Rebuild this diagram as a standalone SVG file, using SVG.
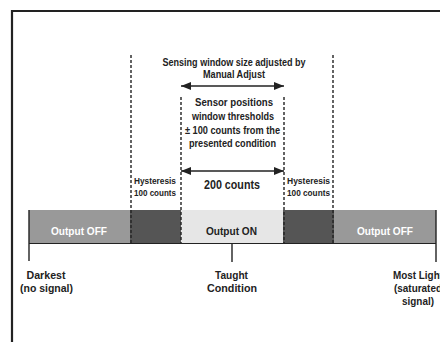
<svg xmlns="http://www.w3.org/2000/svg" width="440" height="342" viewBox="0 0 440 342">
<defs>
<style>
text{font-family:"Liberation Sans",Arial,sans-serif;font-weight:bold;fill:#222;text-anchor:middle}
.ann{font-size:10.5px}
.hys{font-size:9px}
.big{font-size:13px}
.out{font-size:11.5px}
.lbl{font-size:11.5px}
.w{fill:#fff}
.dash{stroke:#222;stroke-width:1.4;stroke-dasharray:3 2;fill:none}
.tick{stroke:#222;stroke-width:1.4;fill:none}
.arr{stroke:#222;stroke-width:1.4;fill:none;marker-start:url(#ah);marker-end:url(#ah)}
</style>
<marker id="ah" viewBox="0 0 10 8" refX="10" refY="4" markerWidth="11" markerHeight="8" markerUnits="userSpaceOnUse" orient="auto-start-reverse">
<path d="M0,0 L10,4 L0,8 z" fill="#222"/>
</marker>
</defs>
<rect width="440" height="342" fill="#fff"/>
<path d="M12,342 V11 H440" fill="none" stroke="#222" stroke-width="2.2"/>

<g id="bar">
<rect x="29" y="210" width="101" height="34" fill="#999"/>
<rect x="130" y="210" width="51" height="34" fill="#555"/>
<rect x="181" y="210" width="102" height="34" fill="#e6e6e6"/>
<rect x="283" y="210" width="51" height="34" fill="#555"/>
<rect x="334" y="210" width="102" height="34" fill="#999"/>
<line x1="29" y1="243.5" x2="436" y2="243.5" stroke="#222" stroke-width="1"/>
<text class="out w" x="79" y="235" textLength="56" lengthAdjust="spacingAndGlyphs">Output OFF</text>
<text class="out" x="231.5" y="235" textLength="51" lengthAdjust="spacingAndGlyphs">Output ON</text>
<text class="out w" x="385" y="235" textLength="56" lengthAdjust="spacingAndGlyphs">Output OFF</text>
</g>

<g id="connectors">
<line class="dash" x1="131" y1="55" x2="131" y2="244"/>
<line class="dash" x1="333" y1="55" x2="333" y2="244"/>
<line class="dash" x1="181" y1="97" x2="181" y2="244"/>
<line class="dash" x1="284" y1="97" x2="284" y2="244"/>
<line class="arr" x1="181" y1="86" x2="284" y2="86"/>
<line class="arr" x1="181" y1="171" x2="284" y2="171"/>
<line class="tick" x1="29" y1="210" x2="29" y2="261"/>
<line class="tick" x1="232" y1="244" x2="232" y2="262"/>
<line class="tick" x1="436" y1="210" x2="436" y2="262"/>
</g>

<g id="window-label">
<text class="ann" x="234" y="66" textLength="143" lengthAdjust="spacingAndGlyphs">Sensing window size adjusted by</text>
<text class="ann" x="234" y="78" textLength="62" lengthAdjust="spacingAndGlyphs">Manual Adjust</text>
</g>
<g id="threshold-label">
<text class="ann" x="234" y="106" textLength="78" lengthAdjust="spacingAndGlyphs">Sensor positions</text>
<text class="ann" x="233" y="120" textLength="82" lengthAdjust="spacingAndGlyphs">window thresholds</text>
<text class="ann" x="232.5" y="134" textLength="95" lengthAdjust="spacingAndGlyphs">± 100 counts from the</text>
<text class="ann" x="232.5" y="147" textLength="87" lengthAdjust="spacingAndGlyphs">presented condition</text>
</g>
<g id="counts-label">
<text class="big" x="232" y="189" textLength="56" lengthAdjust="spacingAndGlyphs">200 counts</text>
</g>
<g id="hysteresis-left">
<text class="hys" x="155" y="184" textLength="42" lengthAdjust="spacingAndGlyphs">Hysteresis</text>
<text class="hys" x="155" y="196" textLength="42" lengthAdjust="spacingAndGlyphs">100 counts</text>
</g>
<g id="hysteresis-right">
<text class="hys" x="308.5" y="184" textLength="43" lengthAdjust="spacingAndGlyphs">Hysteresis</text>
<text class="hys" x="308.5" y="196" textLength="43" lengthAdjust="spacingAndGlyphs">100 counts</text>
</g>
<g id="darkest">
<text class="lbl" x="46" y="279" textLength="39" lengthAdjust="spacingAndGlyphs">Darkest</text>
<text class="lbl" x="46.5" y="291.5" textLength="53" lengthAdjust="spacingAndGlyphs">(no signal)</text>
</g>
<g id="taught">
<text class="lbl" x="231.5" y="279" textLength="33" lengthAdjust="spacingAndGlyphs">Taught</text>
<text class="lbl" x="232" y="291.5" textLength="50" lengthAdjust="spacingAndGlyphs">Condition</text>
</g>
<g id="most-light">
<text class="lbl" x="418" y="279" textLength="50" lengthAdjust="spacingAndGlyphs">Most Light</text>
<text class="lbl" x="418" y="291.5" textLength="48" lengthAdjust="spacingAndGlyphs">(saturated</text>
<text class="lbl" x="418" y="304.5" textLength="32" lengthAdjust="spacingAndGlyphs">signal)</text>
</g>
</svg>
